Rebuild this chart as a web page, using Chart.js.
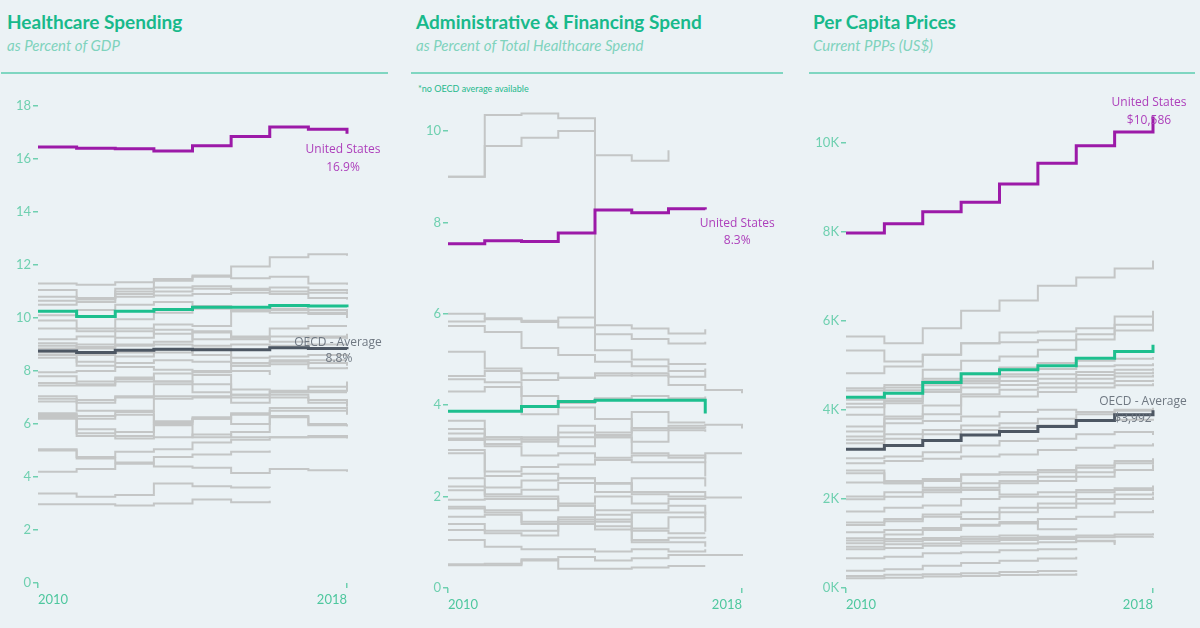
<!doctype html>
<html>
<head>
<meta charset="utf-8">
<title>Healthcare spending</title>
<script src="https://cdn.jsdelivr.net/npm/chart.js@4.4.1/dist/chart.umd.min.js"></script>
<style>
    body { margin: 0; background: #ebf2f5; font-family: Lato, "Open Sans", sans-serif; }
    .wrap { position: relative; width: 1200px; height: 628px; overflow: hidden; }
    .title { position: absolute; top: 10px; font-size: 19px; font-weight: bold; color: #18b98b; white-space: nowrap; }
    .sub { position: absolute; top: 36px; font-size: 15px; font-style: italic; color: #7fd3bd; white-space: nowrap; }
    .rule { position: absolute; top: 72px; height: 2px; background: #7fd6c1; }
    .note { position: absolute; top: 83px; left: 418px; font-size: 9px; color: #1fb98c; }
    canvas { position: absolute; top: 80px; }
</style>
</head>
<body>
<div class="wrap">
    <div class="title" style="left:7px">Healthcare Spending</div>
    <div class="sub" style="left:7px">as Percent of GDP</div>
    <div class="rule" style="left:1px;width:387px"></div>

    <div class="title" style="left:416px">Administrative &amp; Financing Spend</div>
    <div class="sub" style="left:416px">as Percent of Total Healthcare Spend</div>
    <div class="rule" style="left:411px;width:372px"></div>
    <div class="note">*no OECD average available</div>

    <div class="title" style="left:813px">Per Capita Prices</div>
    <div class="sub" style="left:813px">Current PPPs (US$)</div>
    <div class="rule" style="left:809px;width:386px"></div>

    <canvas id="gdp" width="400" height="548" style="left:0px"></canvas>
    <canvas id="admin" width="400" height="548" style="left:400px"></canvas>
    <canvas id="price" width="400" height="548" style="left:800px"></canvas>
</div>
<script>
    const years = [2010, 2011, 2012, 2013, 2014, 2015, 2016, 2017, 2018];
    const yearTicks = [2010, 2018];

    // healthcare spending, % of GDP
    const gdpTicks = [0, 2, 4, 6, 8, 10, 12, 14, 16, 18];
    const gdpUS = [16.45, 16.4, 16.38, 16.3, 16.5, 16.85, 17.2, 17.12, 16.95];
    const gdpHighlight = [10.25, 10.05, 10.25, 10.32, 10.4, 10.4, 10.47, 10.45, 10.4];
    const gdpOECD = [8.75, 8.7, 8.78, 8.82, 8.8, 8.8, 8.88, 8.85, 8.82];
    const gdpOthers = [
        [11.3, 11.25, 11.35, 11.47, 11.6, 11.94, 12.29, 12.4, 12.35],
        [11.05, 10.75, 11.1, 11.4, 11.55, 11.5, 11.55, 11.3, 11.25],
        [10.8, 10.75, 11.0, 11.15, 11.2, 11.1, 11.15, 11.05, 11.0],
        [10.65, 10.7, 10.9, 11.0, 11.1, 11.05, 11.0, 10.95, 10.9],
        [10.5, 10.6, 10.8, 10.85, 10.9, 10.95, 10.9, 10.75, 10.7],
        [10.1, 10.3, 10.5, 10.6, 10.45, 10.3, 10.35, 10.3, 10.2],
        [9.9, 9.6, 9.95, 10.2, 10.35, 10.25, 10.2, 10.15, 10.1],
        [9.6, 9.5, 9.6, 9.75, 9.7, 10.25, 10.3, 10.2, 10.0],
        [9.2, 9.3, 9.5, 9.4, 9.2, 9.3, 9.6, 9.7, 9.7],
        [9.05, 9.0, 9.25, 9.55, 9.45, 9.2, 9.3, 9.25, 9.2],
        [8.95, 8.85, 9.0, 9.1, 9.5, 9.25, 9.1, 9.0, 9.0],
        [8.85, 8.9, 8.95, 9.0, 8.95, 9.0, 8.95, 9.3, 9.4],
        [8.7, 8.6, 8.7, 8.8, 8.6, 8.5, 8.55, 8.6, 8.55],
        [8.6, 8.35, 8.55, 8.7, 8.85, 8.3, 8.35, 8.4, 8.4],
        [8.5, 8.2, 8.3, 8.4, 8.35, 8.2, 8.25, 8.3, 8.2],
        [7.95, 8.0, 8.15, 8.05, 8.0, 8.2, 8.4, 8.1, 8.15],
        [7.8, 7.6, 7.7, 7.9, 7.95, 8.0, 7.85, null, null],
        [7.55, 7.5, 7.75, 7.6, 7.85, 7.3, 7.25, 7.4, 7.6],
        [7.45, 7.45, 7.6, 7.6, 7.5, 7.1, 7.2, 7.25, 7.4],
        [7.05, 6.9, 7.05, 7.5, 7.2, 7.0, 7.2, 7.2, 7.2],
        [6.95, 6.8, 7.0, 7.05, 7.05, 7.1, 7.1, 6.9, 6.8],
        [6.85, 6.5, 6.5, 6.95, 7.0, 6.8, 7.0, 6.8, 6.65],
        [6.4, 6.3, 6.45, 6.1, 6.25, 6.4, 6.6, 6.6, 6.5],
        [6.3, 6.2, 6.35, 6.0, 6.2, 6.35, 6.5, 6.5, 6.35],
        [6.2, 5.8, 5.7, 6.05, 6.2, 6.0, 6.3, 6.0, 6.0],
        [6.25, 5.65, 5.55, 5.95, 5.5, 5.7, 6.25, 5.95, 5.9],
        [6.35, 5.55, 5.45, 5.5, 5.6, 5.5, 5.5, 5.5, 5.45],
        [5.05, 4.75, 4.95, 5.05, 5.3, 5.4, 5.5, 5.55, 5.5],
        [5.0, 4.7, 4.55, 4.75, 4.85, 4.95, 5.0, null, null],
        [4.2, 4.3, 4.5, 4.4, 4.35, 4.15, 4.3, 4.25, 4.2],
        [3.38, 3.25, 3.32, 3.75, 3.65, 3.6, 3.58, null, null],
        [2.97, 2.97, 2.92, 3.0, 3.15, 3.05, 3.1, null, null]
    ];

    // administrative & financing, % of total healthcare spend
    const adminTicks = [0, 2, 4, 6, 8, 10];
    const adminUS = [7.53, 7.6, 7.58, 7.77, 8.27, 8.21, 8.3, 8.28, null];
    const adminHighlight = [3.87, 3.87, 3.97, 4.08, 4.11, 4.11, 4.11, 3.82, null];
    const adminOthers = [
        [9.0, 10.35, 10.38, 10.28, 5.75, 5.68, 5.57, 5.66, null],
        [9.0, 9.67, 9.85, 10.0, 9.47, 9.35, 9.58, null, null],
        [6.0, 5.9, 5.85, 5.92, 5.55, 5.45, 5.35, 5.39, null],
        [5.83, 5.88, 5.82, 5.7, 5.2, 5.0, 4.9, 4.88, null],
        [5.73, 5.6, 5.25, 5.1, 4.95, 4.85, 4.75, 4.8, null],
        [5.17, 4.8, 4.7, 4.6, 4.7, 4.65, 4.44, 4.33, 4.26],
        [4.64, 4.75, 4.55, 4.6, 4.65, 4.7, 4.62, 4.73, null],
        [4.57, 4.5, 4.2, 4.05, 4.15, 4.2, 4.15, 4.19, null],
        [4.3, 4.4, 3.8, 3.95, 3.7, 3.45, 3.55, 3.57, 3.49],
        [3.66, 3.3, 3.25, 3.55, 3.35, 3.85, 3.62, 3.62, null],
        [3.48, 3.25, 3.3, 3.4, 3.4, 3.5, 3.5, 3.49, null],
        [3.38, 3.15, 3.2, 3.3, 3.3, 3.2, 3.45, 3.42, null],
        [3.27, 3.3, 3.25, 3.1, 3.3, 2.95, 2.85, 2.95, 2.95],
        [3.24, 3.1, 2.9, 2.95, 2.85, 2.9, 2.9, 2.73, null],
        [3.02, 2.55, 2.65, 2.7, 2.8, 2.75, 2.75, 2.44, null],
        [2.95, 2.45, 2.5, 2.4, 2.1, 2.4, 2.4, 2.22, null],
        [2.4, 2.2, 2.35, 2.4, 2.3, 2.1, 2.1, 2.0, null],
        [2.22, 2.05, 2.15, 2.3, 2.28, 2.05, 2.0, 1.98, 1.98],
        [2.14, 2.0, 2.0, 1.85, 2.0, 1.85, 1.95, 1.96, null],
        [1.93, 1.95, 1.95, 1.8, 1.7, 1.7, 1.8, 1.6, null],
        [1.78, 1.7, 1.7, 1.8, 1.5, 1.65, 1.65, 1.56, null],
        [1.74, 1.65, 1.45, 1.55, 1.45, 1.3, 1.55, 1.23, null],
        [1.56, 1.6, 1.4, 1.45, 1.35, 1.25, 1.2, 1.2, null],
        [1.4, 1.25, 1.25, 1.4, 1.28, 1.05, 1.1, 1.09, null],
        [1.27, 1.2, 1.15, 1.5, 1.6, 1.0, 1.0, 0.9, null],
        [1.05, 0.9, 0.85, 0.85, 0.8, 0.85, 0.8, 0.85, null],
        [0.52, 0.53, 0.63, 0.68, 0.6, 0.65, 0.72, 0.72, 0.7],
        [0.5, 0.5, 0.6, 0.42, 0.42, 0.45, 0.48, 0.48, null]
    ];

    // per capita prices, current PPPs (US$)
    const priceTicks = [0, 2000, 4000, 6000, 8000, 10000];
    const priceUS = [7970, 8180, 8450, 8660, 9070, 9535, 9930, 10240, 10586];
    const priceHighlight = [4285, 4375, 4614, 4809, 4899, 4989, 5161, 5311, 5461];
    const priceOECD = [3116, 3199, 3311, 3438, 3513, 3625, 3760, 3888, 3992];
    const priceOthers = [
        [5648, 5498, 5835, 6225, 6457, 6787, 6974, 7176, 7356],
        [5333, 5086, 5236, 5498, 5738, 5760, 5835, 6097, 6225],
        [4824, 4974, 5236, 5498, 5520, 5560, 5700, 5910, 6112],
        [4487, 4560, 4900, 5100, 5200, 5350, 5580, 5780, 6007],
        [4434, 4500, 4700, 4800, 4950, 5050, 5100, 5150, 5184],
        [4225, 4440, 4650, 4700, 4800, 4920, 4980, 5000, 5049],
        [4135, 4250, 4550, 4650, 4750, 4800, 4850, 4900, 4936],
        [4060, 4200, 4450, 4600, 4650, 4700, 4780, 4820, 4861],
        [3888, 4150, 4400, 4500, 4560, 4600, 4700, 4750, 4787],
        [3625, 3850, 4100, 4350, 4450, 4500, 4600, 4650, 4674],
        [3513, 3800, 3900, 4300, 4300, 4400, 4500, 4550, 4600],
        [3401, 3700, 3750, 3850, 3950, 4000, 3950, 3980, 3963],
        [3326, 3450, 3550, 3650, 3700, 3800, 3900, 4000, 4050],
        [3251, 3350, 3450, 3550, 3600, 3650, 3750, 3780, 3800],
        [2914, 2950, 3050, 3200, 3300, 3350, 3450, 3500, 3438],
        [2801, 2850, 2900, 2950, 3000, 3100, 3150, 3200, 3251],
        [2637, 2350, 2400, 2550, 2600, 2650, 2750, 2850, 2914],
        [2577, 2400, 2450, 2550, 2550, 2600, 2700, 2800, 2839],
        [2367, 2350, 2250, 2350, 2400, 2500, 2600, 2650, 2727],
        [2052, 2150, 2200, 2250, 2350, 2400, 2500, 2650, 2780],
        [1993, 2050, 2150, 2200, 2100, 2150, 2200, 2240, 2300],
        [1715, 1800, 1850, 2000, 2050, 2050, 2150, 2200, 2240],
        [1468, 1550, 1650, 1700, 1800, 1900, 2000, 2100, 2165],
        [1416, 1500, 1600, 1550, 1700, 1800, 1900, 2000, 2052],
        [1250, 1300, 1350, 1420, 1480, 1320, 1300, null, null],
        [1116, 1200, 1300, 1400, 1450, 1550, 1600, 1700, 1753],
        [1064, 1100, 1120, 1150, 1180, 1150, 1180, 1200, 1228],
        [1004, 1050, 1080, 1100, 1120, 1130, 1140, 1150, 1154],
        [929, 980, 1000, 1050, 1080, 1100, 1050, 1000, null],
        [869, 900, 950, 1000, 1000, 1030, 1060, 966, null],
        [667, 700, 780, 800, 850, 870, 900, null, null],
        [390, 420, 500, 560, 610, 660, 700, null, null],
        [270, 300, 310, 330, 360, 380, 400, null, null],
        [217, 230, 260, 270, 290, 300, 330, null, null]
    ];

    const purple = '#9c1aa8';
    const green = '#1dbf8e';
    const avgGrey = '#4d5763';
    const lineGrey = '#c4c6c6';
    const tickGreen = '#6fd0b0';

    function pts(vals) {
        return vals.map((v, i) => ({ x: years[i], y: v }));
    }

    function lineSet(vals, color, width) {
        return {
            data: pts(vals),
            borderColor: color,
            borderWidth: width,
            pointRadius: 0,
            stepped: true,
            spanGaps: false,
            clip: false,
            fill: false
        };
    }

    // text next to the last point of a series
    const endLabels = {
        id: 'endLabels',
        afterDatasetsDraw(chart, args, opts) {
            const ctx = chart.ctx;
            (opts.items || []).forEach(item => {
                const pts = chart.getDatasetMeta(item.dataset).data;
                let last = pts.length - 1;
                while (last > 0 && pts[last].skip) last--;
                const p = pts[last];
                ctx.save();
                ctx.font = '12px "Open Sans", sans-serif';
                ctx.fillStyle = item.color;
                ctx.textAlign = 'center';
                ctx.textBaseline = 'middle';
                item.lines.forEach((t, i) => {
                    ctx.fillText(t, p.x + item.dx[i], p.y + item.dy[i]);
                });
                ctx.restore();
            });
        }
    };

    function makeChart(id, opts) {
        const datasets = [];
        const labels = [];
        datasets.push(lineSet(opts.us, purple, 3));
        labels.push({ dataset: 0, color: '#ad3fbb', lines: opts.usText, dx: opts.usDx, dy: opts.usDy });
        datasets.push(lineSet(opts.highlight, green, 3));
        if (opts.oecd) {
            datasets.push(lineSet(opts.oecd, avgGrey, 3));
            labels.push({ dataset: 2, color: '#6f7882', lines: opts.oecdText, dx: opts.oecdDx, dy: opts.oecdDy });
        }
        opts.others.forEach(vals => datasets.push(lineSet(vals, lineGrey, 2)));

        return new Chart(document.getElementById(id), {
            type: 'line',
            data: { datasets: datasets },
            plugins: [endLabels],
            options: {
                responsive: false,
                animation: false,
                events: [],
                layout: { padding: { top: opts.padTop, right: opts.padRight, left: 0, bottom: 0 } },
                plugins: {
                    legend: { display: false },
                    tooltip: { enabled: false },
                    endLabels: { items: labels }
                },
                scales: {
                    x: {
                        type: 'linear',
                        min: 2010,
                        max: 2018,
                        afterBuildTicks: s => { s.ticks = yearTicks.map(v => ({ value: v })); },
                        afterFit: s => { s.height = opts.xHeight; },
                        border: { display: false },
                        grid: { drawOnChartArea: false, drawTicks: true, tickLength: 5, color: tickGreen, lineWidth: 1.5 },
                        ticks: {
                            align: 'inner',
                            maxRotation: 0,
                            padding: 4,
                            color: '#4ec79e',
                            font: { family: 'Lato', size: 13 },
                            callback: v => String(v)
                        }
                    },
                    y: {
                        min: 0,
                        max: opts.max,
                        afterBuildTicks: s => { s.ticks = opts.ticks.map(v => ({ value: v })); },
                        afterFit: s => { s.width = opts.yWidth; },
                        border: { display: false },
                        grid: { drawOnChartArea: false, drawTicks: true, tickLength: 5, color: tickGreen, lineWidth: 1.5 },
                        ticks: {
                            padding: 2,
                            color: tickGreen,
                            font: { family: 'Lato', size: 13 },
                            callback: opts.fmt
                        }
                    }
                }
            }
        });
    }

    makeChart('gdp', {
        us: gdpUS, highlight: gdpHighlight, oecd: gdpOECD, others: gdpOthers,
        ticks: gdpTicks, max: 18.6, padTop: 10, padRight: 53, yWidth: 38, xHeight: 45,
        fmt: v => String(v),
        usText: ['United States', '16.9%'], usDx: [-4, -4], usDy: [16, 34],
        oecdText: ['OECD - Average', '8.8%'], oecdDx: [-9, -8], oecdDy: [-7, 9]
    });

    makeChart('admin', {
        us: adminUS, highlight: adminHighlight, oecd: null, others: adminOthers,
        ticks: adminTicks, max: 10.59, padTop: 24, padRight: 58, yWidth: 48, xHeight: 40,
        fmt: v => String(v),
        usText: ['United States', '8.3%'], usDx: [32, 32], usDy: [14, 31]
    });

    makeChart('price', {
        us: priceUS, highlight: priceHighlight, oecd: priceOECD, others: priceOthers,
        ticks: priceTicks, max: 10800, padTop: 27, padRight: 47, yWidth: 46, xHeight: 40,
        fmt: v => (v / 1000) + 'K',
        usText: ['United States', '$10,586'], usDx: [-4, -4], usDy: [-14, 4],
        oecdText: ['OECD - Average', '$3,992'], oecdDx: [-10, -20], oecdDy: [-9, 8]
    });
</script>
</body>
</html>
